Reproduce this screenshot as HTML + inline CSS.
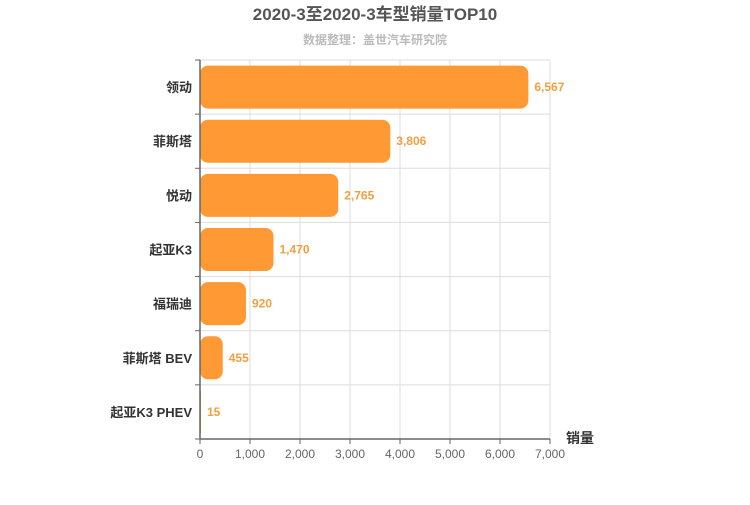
<!DOCTYPE html>
<html><head><meta charset="utf-8"><style>
body{margin:0;background:#fff;font-family:"Liberation Sans","Noto Sans CJK SC",sans-serif;}
</style></head><body>
<svg width="750" height="500" xmlns="http://www.w3.org/2000/svg">
<text x="375" y="20" text-anchor="middle" font-size="17" font-weight="bold" fill="#555">2020-3至2020-3车型销量TOP10</text>
<text x="375" y="44" text-anchor="middle" font-size="12" font-weight="bold" fill="#bbb">数据整理：盖世汽车研究院</text>
<g id="grid"></g><g id="bars"></g><g id="axes"></g>
<text x="566" y="443" font-size="14" font-weight="bold" fill="#333">销量</text>
</svg>
<script>
const categories=["领动","菲斯塔","悦动","起亚K3","福瑞迪","菲斯塔 BEV","起亚K3 PHEV"];
const values=[6567,3806,2765,1470,920,455,15];
const valueLabels=["6,567","3,806","2,765","1,470","920","455","15"];
const xTicks=[0,1000,2000,3000,4000,5000,6000,7000];
const xTickLabels=["0","1,000","2,000","3,000","4,000","5,000","6,000","7,000"];
const NS="http://www.w3.org/2000/svg";
const L=200,R=550,T=60,B=439,xMax=7000;
const x=v=>L+(R-L)*v/xMax;
const band=(B-T)/categories.length;
const y=i=>T+band*i;
function mk(tag,attrs,parent,text){const e=document.createElementNS(NS,tag);for(const k in attrs)e.setAttribute(k,attrs[k]);if(text!=null)e.textContent=text;document.getElementById(parent).appendChild(e);return e;}
xTicks.forEach((t,i)=>{
 const g=mk('line',{x1:x(t),x2:x(t),y1:T,y2:B,stroke:'#ddd'},'grid');
 
 
 const tk=mk('line',{x1:x(t),x2:x(t),y1:B,y2:B+5,stroke:'#666'},'axes');
 
 
 const lb=mk('text',{x:x(t),y:B+19,'text-anchor':'middle','font-size':12,fill:'#666'},'axes',xTickLabels[i]);
 
 
});
for(let i=0;i<=categories.length;i++){
 const g=mk('line',{x1:L,x2:R,y1:y(i),y2:y(i),stroke:'#ddd'},'grid');
 
 
 const tk=mk('line',{x1:L-5,x2:L,y1:y(i),y2:y(i),stroke:'#666'},'axes');
 
 
}
categories.forEach((c,i)=>{
 const h=43,by=y(i)+(band-h)/2,w=Math.max(x(values[i])-L,1);
 const r=Math.min(8,w/2);
 const b=mk('rect',{x:L,y:by,width:w,height:h,rx:r,ry:r,fill:'#ff9933'},'bars');
 
 
 const v=mk('text',{x:L+w+6,y:y(i)+band/2+4,'font-size':12,'font-weight':'bold',fill:'#f0a040'},'bars',valueLabels[i]);
 
 
 const cl=mk('text',{x:L-8,y:y(i)+band/2+5,'text-anchor':'end','font-size':13,'font-weight':'bold',fill:'#333'},'axes',c);
 
 
});
const ya=mk('line',{x1:L,x2:L,y1:T,y2:B,stroke:'#666','stroke-width':1.5},'axes');


const xa=mk('line',{x1:L,x2:R,y1:B,y2:B,stroke:'#666','stroke-width':1.5},'axes');


</script>
</body></html>
